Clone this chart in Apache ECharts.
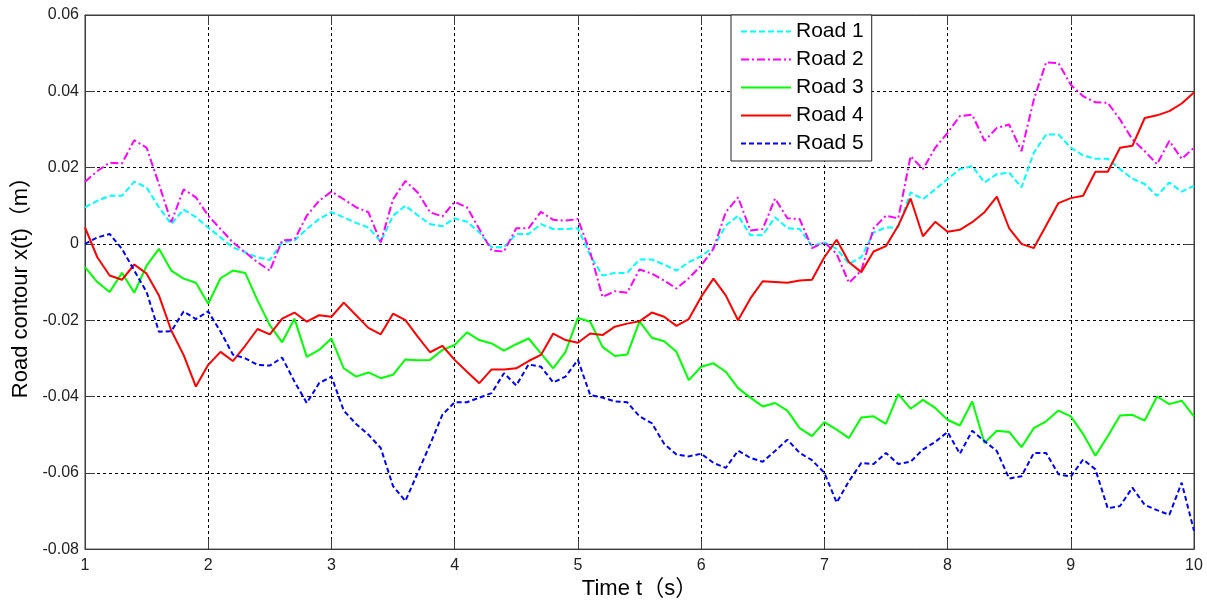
<!DOCTYPE html>
<html>
<head>
<meta charset="utf-8">
<script src="https://cdn.jsdelivr.net/npm/echarts@6/dist/echarts.min.js"></script>
<style>
  html, body { margin: 0; padding: 0; background: #fff; }
  #main { width: 1207px; height: 605px; }
</style>
</head>
<body>
<div id="main"></div>
<script>
// 时间轴 (s)
var times = [1.0, 1.1, 1.2, 1.3, 1.4, 1.5, 1.6, 1.7, 1.8, 1.9,
  2.0, 2.1, 2.2, 2.3, 2.4, 2.5, 2.6, 2.7, 2.8, 2.9,
  3.0, 3.1, 3.2, 3.3, 3.4, 3.5, 3.6, 3.7, 3.8, 3.9,
  4.0, 4.1, 4.2, 4.3, 4.4, 4.5, 4.6, 4.7, 4.8, 4.9,
  5.0, 5.1, 5.2, 5.3, 5.4, 5.5, 5.6, 5.7, 5.8, 5.9,
  6.0, 6.1, 6.2, 6.3, 6.4, 6.5, 6.6, 6.7, 6.8, 6.9,
  7.0, 7.1, 7.2, 7.3, 7.4, 7.5, 7.6, 7.7, 7.8, 7.9,
  8.0, 8.1, 8.2, 8.3, 8.4, 8.5, 8.6, 8.7, 8.8, 8.9,
  9.0, 9.1, 9.2, 9.3, 9.4, 9.5, 9.6, 9.7, 9.8, 9.9, 10.0];

var road1 = [0.0096, 0.0113, 0.0126, 0.0126, 0.0163, 0.0148, 0.0096, 0.0052, 0.0090, 0.0070,
  0.0043, 0.0017, -0.0009, -0.0022, -0.0035, -0.0042, 0.0004, 0.0009, 0.0039, 0.0065,
  0.0083, 0.0070, 0.0055, 0.0043, 0.0006, 0.0074, 0.0100, 0.0075, 0.0052, 0.0046,
  0.0067, 0.0058, 0.0030, -0.0009, -0.0009, 0.0026, 0.0026, 0.0052, 0.0039, 0.0039,
  0.0041, -0.0030, -0.0083, -0.0076, -0.0076, -0.0041, -0.0041, -0.0054, -0.0070, -0.0048,
  -0.0032, -0.0009, 0.0048, 0.0074, 0.0023, 0.0023, 0.0070, 0.0041, 0.0039, -0.0006,
  0.0004, -0.0013, -0.0052, -0.0035, 0.0030, 0.0043, 0.0043, 0.0135, 0.0117, 0.0143,
  0.0170, 0.0196, 0.0204, 0.0161, 0.0183, 0.0187, 0.0148, 0.0239, 0.0287, 0.0287,
  0.0252, 0.0232, 0.0223, 0.0223, 0.0196, 0.0171, 0.0157, 0.0126, 0.0161, 0.0137, 0.0152];

var road2 = [0.0163, 0.0191, 0.0213, 0.0211, 0.0272, 0.0252, 0.0157, 0.0057, 0.0143, 0.0122,
  0.0074, 0.0039, 0.0004, -0.0022, -0.0048, -0.0070, 0.0009, 0.0011, 0.0074, 0.0113,
  0.0137, 0.0117, 0.0096, 0.0083, 0.0004, 0.0117, 0.0165, 0.0135, 0.0083, 0.0072,
  0.0110, 0.0096, 0.0039, -0.0017, -0.0020, 0.0041, 0.0041, 0.0084, 0.0063, 0.0061,
  0.0065, -0.0022, -0.0139, -0.0124, -0.0128, -0.0067, -0.0078, -0.0096, -0.0117, -0.0090,
  -0.0057, -0.0013, 0.0083, 0.0122, 0.0035, 0.0039, 0.0119, 0.0067, 0.0065, -0.0011,
  0.0004, -0.0026, -0.0102, -0.0070, 0.0041, 0.0074, 0.0067, 0.0230, 0.0196, 0.0252,
  0.0291, 0.0335, 0.0339, 0.0270, 0.0304, 0.0313, 0.0243, 0.0378, 0.0476, 0.0474,
  0.0417, 0.0387, 0.0371, 0.0370, 0.0326, 0.0274, 0.0243, 0.0209, 0.0270, 0.0223, 0.0252];

var road3 = [-0.0061, -0.0100, -0.0126, -0.0076, -0.0128, -0.0057, -0.0013, -0.0070, -0.0091, -0.0102,
  -0.0157, -0.0090, -0.0070, -0.0076, -0.0148, -0.0213, -0.0258, -0.0196, -0.0296, -0.0278,
  -0.0248, -0.0326, -0.0348, -0.0337, -0.0352, -0.0343, -0.0303, -0.0305, -0.0304, -0.0278,
  -0.0265, -0.0232, -0.0252, -0.0261, -0.0280, -0.0263, -0.0248, -0.0287, -0.0326, -0.0283,
  -0.0194, -0.0204, -0.0270, -0.0294, -0.0290, -0.0203, -0.0246, -0.0255, -0.0283, -0.0357,
  -0.0322, -0.0313, -0.0335, -0.0378, -0.0403, -0.0426, -0.0417, -0.0437, -0.0483, -0.0504,
  -0.0467, -0.0487, -0.0509, -0.0455, -0.0452, -0.0472, -0.0394, -0.0432, -0.0409, -0.0430,
  -0.0461, -0.0476, -0.0413, -0.0522, -0.0490, -0.0493, -0.0533, -0.0483, -0.0465, -0.0437,
  -0.0452, -0.0498, -0.0555, -0.0504, -0.0450, -0.0448, -0.0463, -0.0400, -0.0420, -0.0411, -0.0452];

var road4 = [0.0043, -0.0035, -0.0083, -0.0094, -0.0054, -0.0078, -0.0135, -0.0227, -0.0291, -0.0374,
  -0.0317, -0.0283, -0.0307, -0.0267, -0.0223, -0.0237, -0.0196, -0.0180, -0.0204, -0.0187,
  -0.0191, -0.0154, -0.0187, -0.0220, -0.0237, -0.0183, -0.0200, -0.0243, -0.0284, -0.0267,
  -0.0304, -0.0335, -0.0365, -0.0329, -0.0329, -0.0326, -0.0307, -0.0291, -0.0235, -0.0252,
  -0.0259, -0.0235, -0.0239, -0.0217, -0.0209, -0.0203, -0.0180, -0.0191, -0.0215, -0.0197,
  -0.0139, -0.0091, -0.0135, -0.0200, -0.0143, -0.0098, -0.0100, -0.0102, -0.0096, -0.0094,
  -0.0035, 0.0011, -0.0048, -0.0074, -0.0020, -0.0006, 0.0048, 0.0119, 0.0020, 0.0058,
  0.0032, 0.0037, 0.0057, 0.0083, 0.0124, 0.0041, 0.0000, -0.0011, 0.0048, 0.0107,
  0.0120, 0.0126, 0.0189, 0.0189, 0.0252, 0.0257, 0.0330, 0.0337, 0.0348, 0.0368, 0.0397];

var road5 = [0.0000, 0.0017, 0.0026, -0.0013, -0.0070, -0.0126, -0.0230, -0.0229, -0.0177, -0.0197,
  -0.0177, -0.0230, -0.0290, -0.0300, -0.0317, -0.0319, -0.0298, -0.0361, -0.0417, -0.0365,
  -0.0348, -0.0437, -0.0472, -0.0500, -0.0535, -0.0635, -0.0674, -0.0600, -0.0526, -0.0448,
  -0.0415, -0.0415, -0.0403, -0.0391, -0.0339, -0.0371, -0.0316, -0.0322, -0.0363, -0.0348,
  -0.0304, -0.0396, -0.0403, -0.0413, -0.0415, -0.0452, -0.0470, -0.0524, -0.0552, -0.0557,
  -0.0550, -0.0574, -0.0587, -0.0542, -0.0561, -0.0571, -0.0543, -0.0513, -0.0548, -0.0567,
  -0.0600, -0.0678, -0.0622, -0.0574, -0.0577, -0.0548, -0.0577, -0.0571, -0.0539, -0.0519,
  -0.0493, -0.0550, -0.0490, -0.0517, -0.0543, -0.0615, -0.0609, -0.0548, -0.0548, -0.0604,
  -0.0610, -0.0565, -0.0591, -0.0693, -0.0687, -0.0639, -0.0684, -0.0698, -0.0710, -0.0626, -0.0752];

var names = ['Road 1', 'Road 2', 'Road 3', 'Road 4', 'Road 5'];
var colors = ['#00ffff', '#ff00ff', '#00ff00', '#ff0000', '#0000ff'];
var dashes = [[6, 3], [8, 3, 2, 3], 'solid', 'solid', [5, 3]];

function toPairs(values) {
  return times.map(function (t, i) { return [t, values[i]]; });
}

var allRoads = [road1, road2, road3, road4, road5];
var series = allRoads.map(function (vals, i) {
  return {
    name: names[i],
    type: 'line',
    xAxisIndex: 0,
    yAxisIndex: 0,
    data: toPairs(vals),
    symbol: 'none',
    showSymbol: false,
    animation: false,
    color: colors[i],
    lineStyle: { color: colors[i], width: 2, type: dashes[i] }
  };
});

var axisColor = '#3c3c3c';
var fontFamily = '"Liberation Sans", Arial, "Noto Sans CJK SC", sans-serif';
var gridLine = { show: true, lineStyle: { color: '#000', type: [3, 3], width: 1 } };

var chart = echarts.init(document.getElementById('main'), null, { renderer: 'canvas' });
chart.setOption({
  backgroundColor: '#fff',
  animation: false,
  grid: { left: 85, right: 13, top: 15, bottom: 52, show: true, borderColor: axisColor, borderWidth: 1 },
  legend: {
    orient: 'vertical',
    left: 731,
    top: 15,
    padding: [6, 8, 7, 9],
    itemGap: 7,
    itemWidth: 50,
    itemHeight: 14,
    backgroundColor: '#fff',
    borderColor: '#222',
    borderWidth: 1,
    itemStyle: { opacity: 0 },
    lineStyle: { width: 2 },
    textStyle: { fontSize: 21, color: '#000', fontFamily: fontFamily },
    data: names
  },
  xAxis: [{
    type: 'value',
    min: 1,
    max: 10,
    interval: 1,
    name: 'Time t（s）',
    nameLocation: 'middle',
    nameGap: 28,
    nameTextStyle: { fontSize: 22, color: '#000', fontFamily: fontFamily },
    axisLine: { show: true, onZero: false, lineStyle: { color: axisColor } },
    axisTick: { show: true, inside: true, length: 10, lineStyle: { color: axisColor } },
    axisLabel: { fontSize: 16, color: '#222', margin: 8, fontFamily: fontFamily },
    splitLine: gridLine
  }, {
    type: 'value',
    position: 'top',
    min: 1,
    max: 10,
    interval: 1,
    axisLine: { show: true, onZero: false, lineStyle: { color: axisColor } },
    axisTick: { show: true, inside: true, length: 10, lineStyle: { color: axisColor } },
    axisLabel: { show: false },
    splitLine: { show: false }
  }],
  yAxis: [{
    type: 'value',
    min: -0.08,
    max: 0.06,
    interval: 0.02,
    name: 'Road contour x(t)（m）',
    nameLocation: 'middle',
    nameRotate: 90,
    nameGap: 52,
    nameTextStyle: { fontSize: 22, color: '#000', fontFamily: fontFamily },
    axisLine: { show: true, onZero: false, lineStyle: { color: axisColor } },
    axisTick: { show: true, inside: true, length: 10, lineStyle: { color: axisColor } },
    axisLabel: {
      fontSize: 16, color: '#222', margin: 6, fontFamily: fontFamily,
      formatter: function (v) { return String(+v.toFixed(2)); }
    },
    splitLine: gridLine
  }, {
    type: 'value',
    position: 'right',
    min: -0.08,
    max: 0.06,
    interval: 0.02,
    axisLine: { show: true, onZero: false, lineStyle: { color: axisColor } },
    axisTick: { show: true, inside: true, length: 10, lineStyle: { color: axisColor } },
    axisLabel: { show: false },
    splitLine: { show: false }
  }],
  series: series
});
</script>
</body>
</html>
